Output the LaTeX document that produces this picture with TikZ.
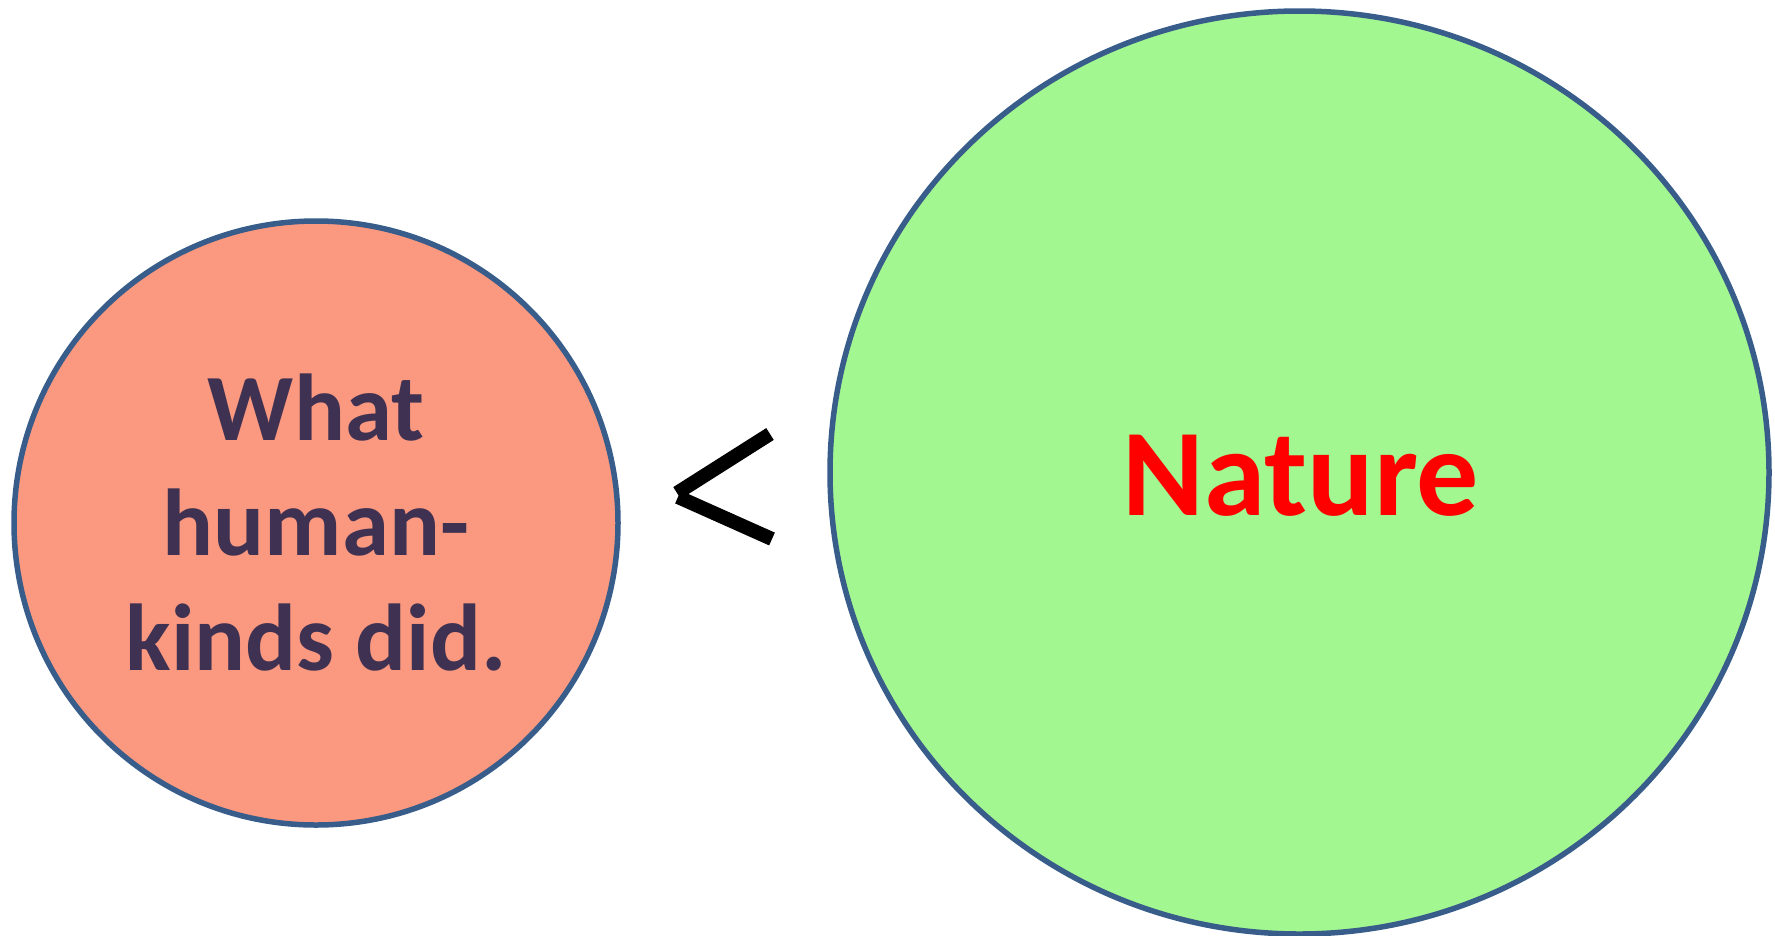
\documentclass[tikz,border=0pt]{standalone}
\usepackage{fontspec}
\usetikzlibrary{shapes.geometric}
\newfontfamily\carlito{Carlito}
\definecolor{salmonfill}{HTML}{FA9880}
\definecolor{greenfill}{HTML}{A3F791}
\definecolor{outline}{HTML}{385D8A}
\definecolor{plum}{HTML}{3F3151}
\tikzset{
  blob/.style={draw=outline, line width=5.5pt, inner sep=0pt},
  bigword/.style={font=\carlito\bfseries, inner sep=0pt, anchor=base},
  lessbar/.style={draw=black, line width=14pt, line cap=butt}
}
\begin{document}
\begin{tikzpicture}[x=1pt, y=-1pt]
  \useasboundingbox (0,0) rectangle (1775,935);
  % the two bodies
  \node[blob, circle, fill=salmonfill, minimum size=604pt] (human) at (316,523) {};
  \node[blob, ellipse, fill=greenfill, minimum width=939pt, minimum height=923pt] (nature) at (1299.5,472.5) {};
  % labels
  \node[bigword, text=plum, font=\carlito\bfseries\fontsize{95pt}{115pt}\selectfont] (whatl) at (316,440) {What};
  \node[bigword, text=plum, font=\carlito\bfseries\fontsize{95pt}{115pt}\selectfont] (humanl) at (316,555) {human-};
  \node[bigword, text=plum, font=\carlito\bfseries\fontsize{95pt}{115pt}\selectfont] (kindsl) at (316,670) {kinds did.};
  \node[bigword, text=red, font=\carlito\bfseries\fontsize{124pt}{150pt}\selectfont] (naturel) at (1301,515) {Nature};
  % the "less than" sign between them
  \coordinate (ltop) at (770,434);
  \coordinate (lmidA) at (677,493);
  \coordinate (lmidB) at (678,497);
  \coordinate (lbot) at (772,539);
  \draw[lessbar] (ltop) -- (lmidA);
  \draw[lessbar] (lmidB) -- (lbot);
\end{tikzpicture}
\end{document}
